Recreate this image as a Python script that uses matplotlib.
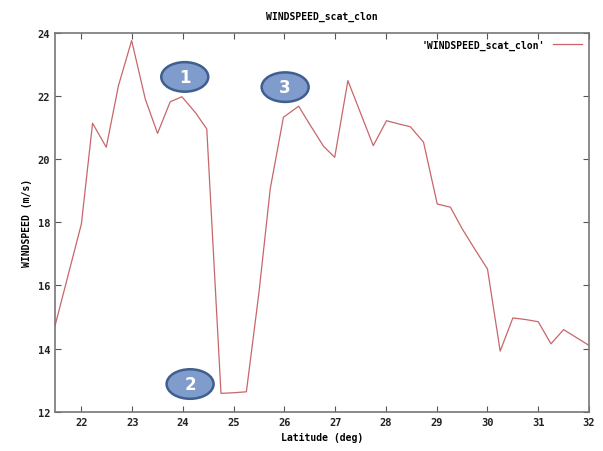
import matplotlib.pyplot as plt
from matplotlib.patches import Ellipse

# latitude (deg) and windspeed (m/s)
lat = [21.48, 22.0, 22.22, 22.49, 22.73, 22.99, 23.26, 23.50, 23.75, 23.98, 24.25, 24.47,
       24.75, 25.0, 25.25, 25.5, 25.72, 25.98, 26.28, 26.5, 26.77, 26.99, 27.25, 27.5,
       27.75, 28.01, 28.25, 28.48, 28.74, 29.01, 29.27, 29.5, 29.75, 30.0, 30.25, 30.5,
       30.75, 31.0, 31.25, 31.5, 31.75, 32.0]
wind = [14.72, 17.95, 21.14, 20.38, 22.33, 23.76, 21.9, 20.82, 21.82, 21.98, 21.47, 20.96,
        12.58, 12.6, 12.63, 15.8, 19.06, 21.33, 21.68, 21.1, 20.41, 20.06, 22.49, 21.46,
        20.43, 21.22, 21.12, 21.03, 20.54, 18.58, 18.48, 17.8, 17.15, 16.52, 13.92, 14.97,
        14.92, 14.85, 14.15, 14.6, 14.35, 14.1]

xticks = [22, 23, 24, 25, 26, 27, 28, 29, 30, 31, 32]
yticks = [12, 14, 16, 18, 20, 22, 24]
# callout bubbles: label, axes-fraction position
notes = [('1', 0.243, 0.884), ('2', 0.253, 0.073), ('3', 0.431, 0.857)]

plt.rcParams['font.family'] = 'DejaVu Sans Mono'
plt.rcParams['font.weight'] = 'bold'

fig = plt.figure(figsize=(6.03, 4.52), dpi=100)
ax = fig.add_axes([0.0912, 0.087, 0.8856, 0.8378])

ax.plot(lat, wind, color='#c8666a', lw=0.9, label="'WINDSPEED_scat_clon'")

ax.set_xlim(21.48, 32)
ax.set_ylim(12, 24)
ax.set_xticks(xticks)
ax.set_yticks(yticks)
ax.tick_params(direction='in', top=True, right=True, length=4, width=0.8,
               labelsize=7.5, colors='#555555', labelcolor='#222222')
for s in ax.spines.values():
    s.set_color('#777777')
    s.set_linewidth(1.2)

ax.set_title('WINDSPEED_scat_clon', fontsize=7, fontweight='bold', pad=10)
ax.set_xlabel('Latitude (deg)', fontsize=7, fontweight='bold')
ax.set_ylabel('WINDSPEED (m/s)', fontsize=7, fontweight='bold')

ax.legend(loc='upper right', frameon=False, fontsize=7, markerfirst=False,
          handlelength=3, borderaxespad=0.3)

for txt, fx, fy in notes:
    ax.add_patch(Ellipse((fx, fy), 0.088, 0.078, transform=ax.transAxes,
                         fc='#7f9ccc', ec='#3f5f8f', lw=1.8, zorder=5))
    ax.text(fx, fy, txt, transform=ax.transAxes, ha='center', va='center',
            fontsize=12, fontweight='bold', color='white', family='DejaVu Sans',
            zorder=6)

plt.savefig('out.png')
